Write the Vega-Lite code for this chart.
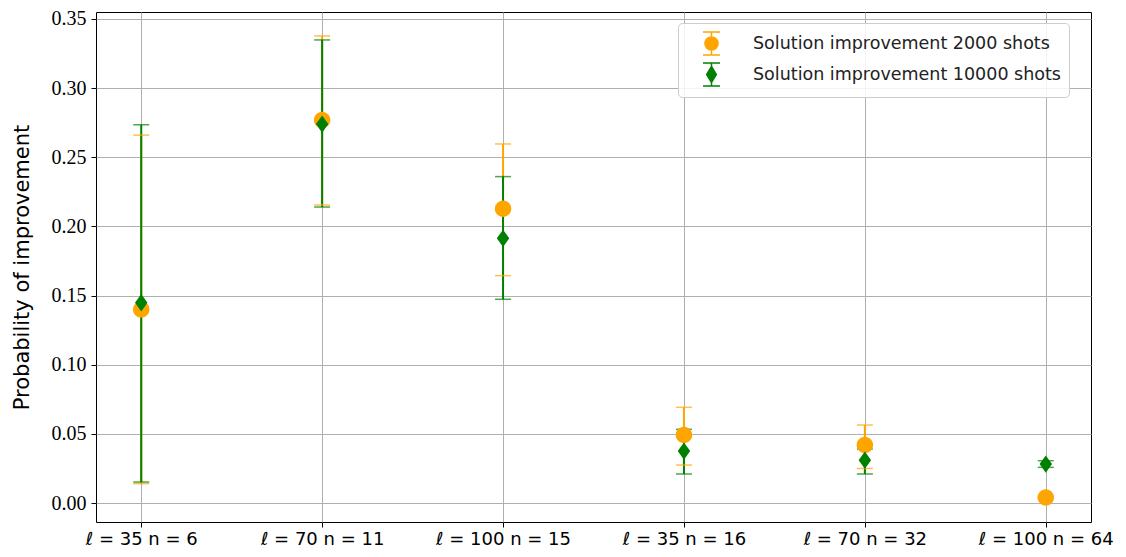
{
  "$schema": "https://vega.github.io/schema/vega-lite/v6.json",
  "autosize": {"type": "none"},
  "padding": {"left": 96, "top": 12, "right": 35, "bottom": 35},
  "width": 995,
  "height": 510,
  "background": "white",
  "config": {
    "view": {"stroke": "black", "strokeWidth": 1},
    "axis": {"gridColor": "#b0b0b0", "gridWidth": 1, "domain": false, "tickColor": "black", "tickSize": 5, "labelColor": "black", "titleColor": "black"}
  },
  "data": {
    "values": [
      {"cat": "ℓ = 35 n = 6", "series": "Solution improvement 2000 shots", "y": 0.140, "lo": 0.014, "hi": 0.266},
      {"cat": "ℓ = 70 n = 11", "series": "Solution improvement 2000 shots", "y": 0.277, "lo": 0.2155, "hi": 0.3377},
      {"cat": "ℓ = 100 n = 15", "series": "Solution improvement 2000 shots", "y": 0.2128, "lo": 0.1644, "hi": 0.2596},
      {"cat": "ℓ = 35 n = 16", "series": "Solution improvement 2000 shots", "y": 0.0492, "lo": 0.0275, "hi": 0.0692},
      {"cat": "ℓ = 70 n = 32", "series": "Solution improvement 2000 shots", "y": 0.042, "lo": 0.025, "hi": 0.0564},
      {"cat": "ℓ = 100 n = 64", "series": "Solution improvement 2000 shots", "y": 0.0041, "lo": 0.0041, "hi": 0.0041},
      {"cat": "ℓ = 35 n = 6", "series": "Solution improvement 10000 shots", "y": 0.1448, "lo": 0.0152, "hi": 0.2735},
      {"cat": "ℓ = 70 n = 11", "series": "Solution improvement 10000 shots", "y": 0.274, "lo": 0.214, "hi": 0.3348},
      {"cat": "ℓ = 100 n = 15", "series": "Solution improvement 10000 shots", "y": 0.1914, "lo": 0.1473, "hi": 0.236},
      {"cat": "ℓ = 35 n = 16", "series": "Solution improvement 10000 shots", "y": 0.0376, "lo": 0.021, "hi": 0.0533},
      {"cat": "ℓ = 70 n = 32", "series": "Solution improvement 10000 shots", "y": 0.031, "lo": 0.021, "hi": 0.039},
      {"cat": "ℓ = 100 n = 64", "series": "Solution improvement 10000 shots", "y": 0.0282, "lo": 0.0258, "hi": 0.0306}
    ]
  },
  "encoding": {
    "x": {
      "field": "cat", "type": "nominal", "sort": null,
      "scale": {"type": "point", "padding": 0.25},
      "axis": {"title": null, "labelAngle": 0, "labelFont": "DejaVu Sans", "labelFontSize": 18, "labelPadding": 3, "grid": true}
    },
    "color": {
      "field": "series", "type": "nominal", "sort": null,
      "scale": {"domain": ["Solution improvement 2000 shots", "Solution improvement 10000 shots"], "range": ["#FFA500", "#008000"]},
      "legend": {
        "title": null, "orient": "none", "legendX": 582, "legendY": 11,
        "fillColor": "rgba(255,255,255,0.85)", "strokeColor": "#cccccc", "cornerRadius": 4, "padding": 8,
        "labelFont": "DejaVu Sans", "labelFontSize": 17.5, "labelColor": "#222222", "labelOffset": 29, "labelLimit": 400,
        "symbolType": "M-0.57,0 A0.57,0.57 0 1,0 0.57,0 A0.57,0.57 0 1,0 -0.57,0 Z M0,-1 L0,1 M-0.74,-1 L0.74,-1 M-0.74,1 L0.74,1",
        "symbolSize": 529, "symbolOpacity": 1, "symbolStrokeWidth": 1.5, "symbolOffset": 13, "rowPadding": 2,
        "encode": {
          "symbols": {
            "update": {
              "opacity": {"value": 1},
              "fill": {"signal": "datum.value === 'Solution improvement 2000 shots' ? '#FFA500' : '#008000'"},
              "fillOpacity": {"value": 1},
              "strokeOpacity": {"value": 1},
              "stroke": {"signal": "datum.value === 'Solution improvement 2000 shots' ? '#FFA500' : '#008000'"},
              "strokeWidth": {"value": 1.5},
              "shape": {"signal": "datum.value === 'Solution improvement 2000 shots' ? 'M-0.57,0 A0.57,0.57 0 1,0 0.57,0 A0.57,0.57 0 1,0 -0.57,0 Z M0,-1 L0,1 M-0.74,-1 L0.74,-1 M-0.74,1 L0.74,1' : 'M0,-0.7 L0.42,0 L0,0.7 L-0.42,0 Z M0,-1 L0,1 M-0.74,-1 L0.74,-1 M-0.74,1 L0.74,1'"}
            }
          }
        }
      }
    }
  },
  "layer": [
    {
      "mark": {"type": "rule", "strokeWidth": 2},
      "encoding": {
        "y": {"field": "lo", "type": "quantitative", "scale": {"domain": [-0.0137, 0.355], "nice": false, "zero": false},
          "axis": {"title": "Probability of improvement", "titleFont": "DejaVu Sans", "titleFontSize": 21, "titleFontWeight": "normal", "titlePadding": 19,
            "values": [0, 0.05, 0.1, 0.15, 0.2, 0.25, 0.3, 0.35], "format": ".2f", "labelFont": "Liberation Serif", "labelFontSize": 20, "labelPadding": 5}},
        "y2": {"field": "hi"}
      }
    },
    {
      "mark": {"type": "tick", "thickness": 1.5, "size": 16},
      "encoding": {"y": {"field": "lo", "type": "quantitative"}}
    },
    {
      "mark": {"type": "tick", "thickness": 1.5, "size": 16},
      "encoding": {"y": {"field": "hi", "type": "quantitative"}}
    },
    {
      "transform": [{"filter": "datum.series === 'Solution improvement 2000 shots'"}],
      "mark": {"type": "point", "filled": true, "opacity": 1, "size": 300, "shape": "M-0.95,0 A0.95,0.95 0 1,0 0.95,0 A0.95,0.95 0 1,0 -0.95,0 Z"},
      "encoding": {"y": {"field": "y", "type": "quantitative"}}
    },
    {
      "transform": [{"filter": "datum.series === 'Solution improvement 10000 shots'"}],
      "mark": {"type": "point", "filled": true, "opacity": 1, "size": 300, "shape": "M0,-1 L0.72,0 L0,1 L-0.72,0 Z"},
      "encoding": {"y": {"field": "y", "type": "quantitative"}}
    }
  ]
}
